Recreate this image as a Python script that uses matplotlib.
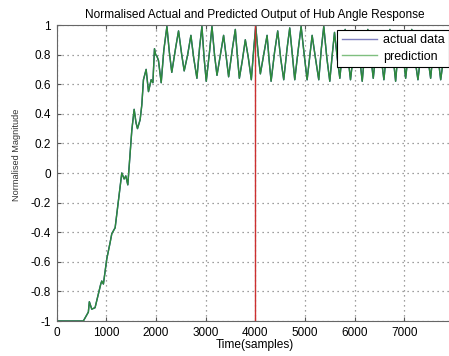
import numpy as np
import matplotlib.pyplot as plt

plt.rcParams['font.family'] = ['Liberation Sans', 'DejaVu Sans']

# hub angle response (vertices of the trace)
tiempo = [0, 540, 641, 661, 710, 776, 891, 911, 944, 1012, 1079, 1113, 1180,
          1314, 1361, 1395, 1435, 1482, 1516, 1563, 1600, 1630, 1683, 1717,
          1750, 1804, 1851, 1905, 1940, 1972, 1995, 2020, 2052, 2107, 2160,
          2222, 2270, 2320, 2400, 2456, 2520, 2570, 2640, 2705, 2760, 2826,
          2880, 2927, 2970, 3014, 3080, 3129, 3180, 3230, 3300, 3363, 3410,
          3464, 3540, 3599, 3640, 3680, 3740, 3800, 3860, 3921, 3970, 4010,
          4060, 4103, 4170, 4238, 4280, 4319, 4390, 4452, 4510, 4573, 4640,
          4694, 4745, 4795, 4860, 4923, 4985, 5044, 5100, 5145, 5210, 5278,
          5330, 5379, 5440, 5500, 5550, 5595, 5650, 5702, 5760, 5810, 5860,
          5917, 5980, 6040, 6100, 6153, 6210, 6265, 6320, 6375, 6430, 6480,
          6535, 6589, 6650, 6710, 6770, 6825, 6875, 6925, 6975, 7027, 7090,
          7150, 7210, 7274, 7340, 7400, 7465, 7530, 7580, 7630, 7680, 7732,
          7800, 7860, 7950, 8000]
amplitud = [-1, -1, -0.94, -0.87, -0.92, -0.91, -0.75, -0.73, -0.75, -0.58,
            -0.47, -0.41, -0.37, 0.0, -0.04, -0.02, -0.08, 0.14, 0.29, 0.43,
            0.34, 0.30, 0.36, 0.46, 0.63, 0.70, 0.55, 0.63, 0.61, 0.84, 0.80,
            0.79, 0.76, 0.61, 0.83, 0.99, 0.82, 0.68, 0.85, 0.96, 0.80, 0.69,
            0.80, 0.93, 0.78, 0.64, 0.85, 0.99, 0.78, 0.62, 0.82, 0.99, 0.80,
            0.66, 0.80, 0.93, 0.80, 0.65, 0.84, 0.97, 0.79, 0.64, 0.76, 0.90,
            0.78, 0.63, 0.84, 0.99, 0.80, 0.67, 0.80, 0.93, 0.76, 0.62, 0.82,
            0.96, 0.78, 0.63, 0.84, 0.98, 0.80, 0.63, 0.82, 0.99, 0.80, 0.63,
            0.80, 0.93, 0.78, 0.63, 0.84, 0.99, 0.78, 0.62, 0.80, 0.95, 0.78,
            0.64, 0.84, 0.97, 0.80, 0.63, 0.82, 0.96, 0.78, 0.62, 0.84, 0.97,
            0.80, 0.64, 0.82, 0.96, 0.78, 0.63, 0.84, 0.97, 0.80, 0.62, 0.82,
            0.96, 0.80, 0.64, 0.84, 0.97, 0.78, 0.63, 0.82, 0.96, 0.80, 0.64,
            0.82, 0.95, 0.78, 0.63, 0.80, 0.79, 0.82, 0.80]

fig = plt.figure(figsize=(4.49, 3.56), dpi=100)
ax = fig.add_axes([56.5 / 449, 35 / 356, 397.5 / 449, 296 / 356])

ax.plot(tiempo, amplitud, color='#2b3fa0', lw=1.0, label='actual data')
ax.plot(tiempo, amplitud, color='#2e8b3a', lw=1.0, label='prediction')
ax.axvline(4000, color='#cc3030', lw=1.0)

ax.set_xlim(0, 8000)
ax.set_ylim(-1, 1)
ax.set_xticks(np.arange(0, 8000, 1000))
ax.set_yticks(np.arange(-1, 1.01, 0.2))
ax.set_yticklabels(['-1', '-0.8', '-0.6', '-0.4', '-0.2', '0',
                    '0.2', '0.4', '0.6', '0.8', '1'])
ax.tick_params(direction='in', labelsize=8.5, top=True, right=True,
               length=3, color='#555555', pad=4)
ax.grid(True, linestyle=(0, (1, 3)), color='#808080', lw=0.9)
for s in ax.spines.values():
    s.set_color('#666666')

ax.set_title('Normalised Actual and Predicted Output of Hub Angle Response',
             fontsize=8.6, pad=5)
ax.set_xlabel('Time(samples)', fontsize=8.6, labelpad=0)
ax.set_ylabel('Normalised Magnitude', fontsize=6.6, color='#333333')
ax.yaxis.set_label_coords(-0.09, 0.56)

leg = ax.legend(loc='upper right', bbox_to_anchor=(449 / 449, (356 - 30) / 356),
                bbox_transform=fig.transFigure, fontsize=9, fancybox=False,
                edgecolor='black', framealpha=1, handlelength=2.8,
                borderpad=0.35, labelspacing=0.35, handletextpad=0.5,
                borderaxespad=0)
leg.get_frame().set_linewidth(0.8)
for h, c in zip(leg.get_lines(), ['#7f7fbf', '#7fbf7f']):
    h.set_color(c)

fig.savefig('out.png', dpi=100)
